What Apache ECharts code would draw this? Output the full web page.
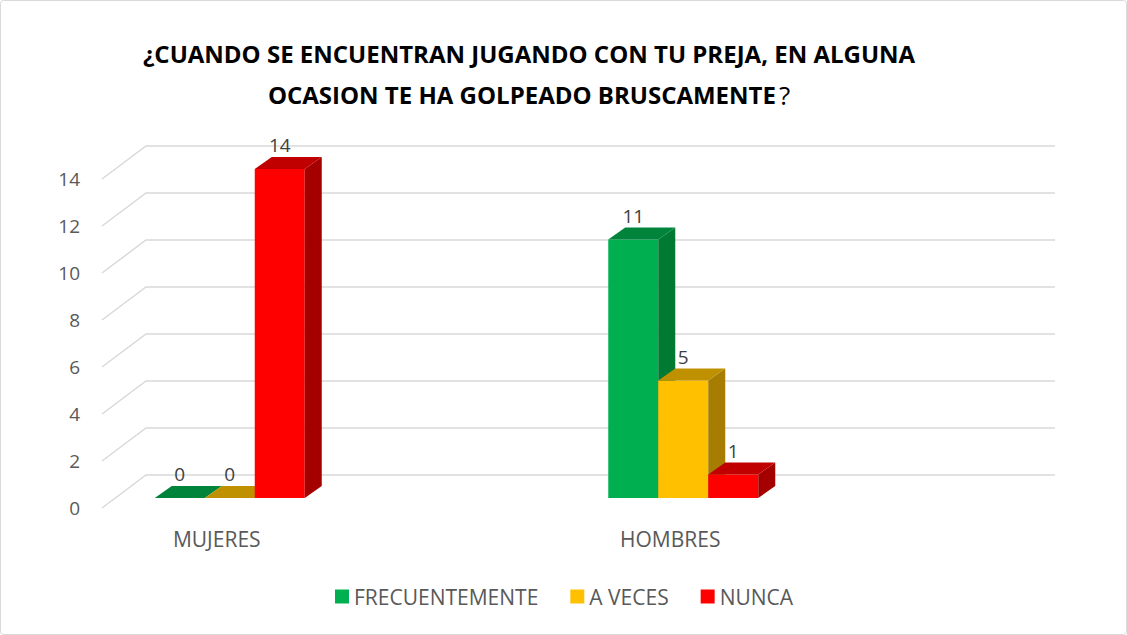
<!DOCTYPE html>
<html>
<head>
<meta charset="utf-8">
<script src="https://cdn.jsdelivr.net/npm/echarts@6/dist/echarts.min.js"></script>
<style>
  html, body { margin: 0; padding: 0; background: #fff; }
  #main { width: 1127px; height: 635px; }
</style>
</head>
<body>
<div id="main"></div>
<script>
const categorias = ['MUJERES', 'HOMBRES'];
const frecuentemente = [0, 11];
const aVeces = [0, 5];
const nunca = [14, 1];
const marcasY = [0, 2, 4, 6, 8, 10, 12, 14];

// colores de cada serie: frente, lado y tapa del prisma
const series3d = [
  { nombre: 'FRECUENTEMENTE', datos: frecuentemente, frente: '#00B050', lado: '#007A33', tapa: '#00843C' },
  { nombre: 'A VECES', datos: aVeces, frente: '#FFC000', lado: '#A67D00', tapa: '#BF9000' },
  { nombre: 'NUNCA', datos: nunca, frente: '#FF0000', lado: '#A50000', tapa: '#C00000' }
];

const fuente = "'Open Sans', sans-serif";
const anchoBarra = 50;
const prof = [17, -12];       // profundidad de la barra
const frenteBarra = [3, -10]; // desplazamiento del plano de las barras
const pared = [44, -33];      // pared del fondo

var myChart = echarts.init(document.getElementById('main'), null, { renderer: 'svg' });
var option;

function barra3d(k, s) {
  return function (params, api) {
    const arriba = api.coord([api.value(0), api.value(1)]);
    const abajo = api.coord([api.value(0), 0]);
    const x0 = arriba[0] + frenteBarra[0] - 1.5 * anchoBarra + k * anchoBarra;
    const x1 = x0 + anchoBarra;
    const yT = arriba[1] + frenteBarra[1];
    const yB = abajo[1] + frenteBarra[1];
    return {
      type: 'group',
      children: [
        { type: 'rect', shape: { x: x0, y: yT, width: anchoBarra, height: yB - yT }, style: { fill: s.frente } },
        { type: 'polygon', shape: { points: [[x1, yT], [x1 + prof[0], yT + prof[1]], [x1 + prof[0], yB + prof[1]], [x1, yB]] }, style: { fill: s.lado } },
        { type: 'polygon', shape: { points: [[x0, yT], [x1, yT], [x1 + prof[0], yT + prof[1]], [x0 + prof[0], yT + prof[1]]] }, style: { fill: s.tapa } },
        { type: 'text', x: (x0 + x1) / 2, y: yT - 24,
          style: { text: String(api.value(1)), fill: '#404040', fontSize: 19, fontFamily: fuente, align: 'center', verticalAlign: 'middle' } }
      ]
    };
  };
}

option = {
  animation: false,
  title: {
    text: '¿CUANDO SE ENCUENTRAN JUGANDO CON TU PREJA, EN ALGUNA\nOCASION TE HA GOLPEADO BRUSCAMENTE{q|?}',
    left: 524,
    top: 28,
    textAlign: 'center',
    textStyle: {
      fontSize: 24, fontWeight: 'bold', color: '#000', lineHeight: 41, fontFamily: fuente,
      rich: { q: { fontSize: 26, fontWeight: 'normal', color: '#000', lineHeight: 41, fontFamily: fuente, padding: [0, 0, 0, 3] } }
    }
  },
  legend: {
    data: series3d.map(s => s.nombre),
    left: 330,
    top: 581,
    icon: 'rect',
    itemWidth: 14,
    itemHeight: 14,
    itemGap: 32,
    textStyle: { fontSize: 21, color: '#595959', fontFamily: fuente }
  },
  graphic: [
    { type: 'rect', shape: { x: 0.5, y: 0.5, width: 1126, height: 634, r: 3 }, style: { fill: null, stroke: '#D9D9D9', lineWidth: 1 }, silent: true }
  ],
  grid: [
    { left: 102, right: 116, top: 179, bottom: 127 },
    { left: 0, right: 220, top: 179, bottom: 127 }
  ],
  xAxis: [
    { gridIndex: 0, type: 'value', min: 0, max: 1, show: false },
    {
      gridIndex: 1, type: 'category', data: categorias,
      axisLine: { show: false }, axisTick: { show: false },
      axisLabel: { margin: 20, fontSize: 21, color: '#595959', fontFamily: fuente, padding: [0, 20, 0, 0] }
    }
  ],
  yAxis: [
    {
      gridIndex: 0, type: 'value', min: 0, max: 14, interval: 2,
      axisLine: { show: false }, axisTick: { show: false }, splitLine: { show: false },
      axisLabel: { margin: 22, fontSize: 19, color: '#595959', fontFamily: fuente }
    },
    { gridIndex: 1, type: 'value', min: 0, max: 14, interval: 2, show: false, splitLine: { show: false } }
  ],
  series: [
    {
      type: 'custom',
      xAxisIndex: 0, yAxisIndex: 0,
      silent: true,
      z: 1,
      data: marcasY.map(v => [0, v]),
      renderItem: function (params, api) {
        const a = api.coord([0, api.value(1)]);
        const b = api.coord([1, api.value(1)]);
        return {
          type: 'polyline',
          shape: { points: [a, [a[0] + pared[0], a[1] + pared[1]], [b[0] + pared[0], b[1] + pared[1]]] },
          style: { stroke: '#D9D9D9', lineWidth: 1.5, fill: null }
        };
      }
    }
  ].concat(series3d.map((s, k) => ({
    name: s.nombre,
    type: 'custom',
    xAxisIndex: 1, yAxisIndex: 1,
    z: 2 + k,
    itemStyle: { color: s.frente },
    data: categorias.map((c, i) => [i, s.datos[i]]),
    renderItem: barra3d(k, s)
  })))
};

option && myChart.setOption(option);
</script>
</body>
</html>
